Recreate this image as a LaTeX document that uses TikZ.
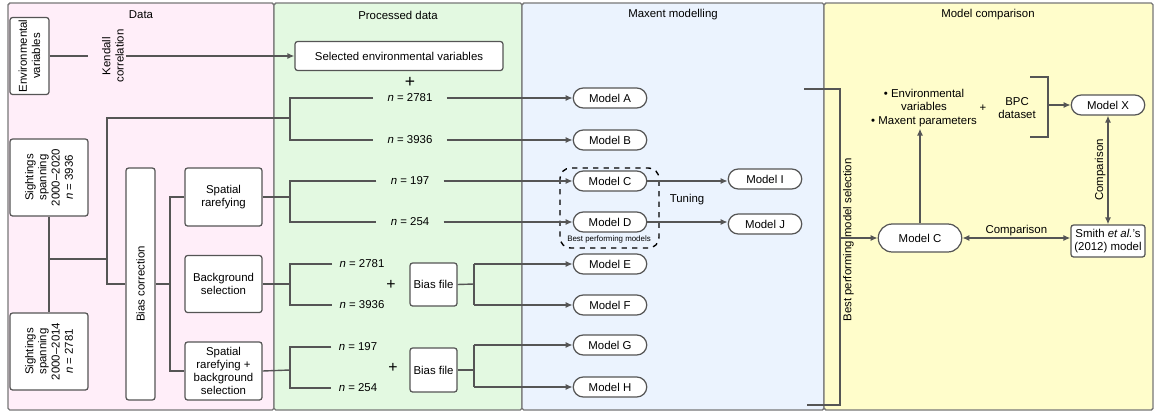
\documentclass[tikz,border=0pt]{standalone}
\usepackage{fontspec}
\setmainfont{Liberation Sans}
\usetikzlibrary{shapes.misc,arrows.meta}
\definecolor{panelpink}{HTML}{FFEEF9}
\definecolor{panelgreen}{HTML}{E3F9E1}
\definecolor{panelblue}{HTML}{EBF3FE}
\definecolor{panelyellow}{HTML}{FFFDCB}
\definecolor{edge}{HTML}{555555}
\tikzset{
  panel/.style={draw=edge!80, line width=0.8pt, rounded corners=1pt},
  title/.style={font=\fontsize{6.5}{7.5}\selectfont},
  box/.style={draw=edge, line width=0.7pt, fill=white, rounded corners=1.5pt, align=center, font=\fontsize{6.5}{7.5}\selectfont, inner sep=1pt},
  model/.style={draw=edge, line width=0.7pt, fill=white, rounded rectangle, minimum width=1.54cm, minimum height=0.4cm, font=\fontsize{6.5}{7.5}\selectfont, inner sep=1pt},
  lab/.style={font=\fontsize{6.5}{7.5}\selectfont, inner sep=1pt, align=center},
  link/.style={draw=edge, line width=0.8pt},
  arr/.style={link, -{Latex[length=4pt,width=3.5pt]}},
  darr/.style={link, {Latex[length=4pt,width=3.5pt]}-{Latex[length=4pt,width=3.5pt]}}
}
\begin{document}
\begin{tikzpicture}[x=0.02cm, y=-0.02cm]
\useasboundingbox (0,0) rectangle (1157,413);

% panels
\draw[panel, fill=panelpink] (8,3) rectangle (274,410);
\draw[panel, fill=panelgreen] (274,3) rectangle (522,410);
\draw[panel, fill=panelblue] (522,3) rectangle (824,410);
\draw[panel, fill=panelyellow] (824,3) rectangle (1153,410);
\node[title] at (141,15) {Data};
\node[title] at (398,15) {Processed data};
\node[title] at (673,15) {Maxent modelling};
\node[title] at (988,15) {Model comparison};

% data
\node[box, minimum width=1.54cm, minimum height=0.78cm, rotate=90] (env) at (29.5,56) {Environmental\\variables};
\node[lab, rotate=90] (kendall) at (113,56) {Kendall\\correlation};
\node[box, minimum width=4.16cm, minimum height=0.58cm] (selected) at (399,56) {Selected environmental variables};
\node[lab, font=\fontsize{10}{10}\selectfont] (plus0) at (410,82) {+};
\draw[link] (env.south) -- (88,56);
\draw[arr] (kendall.south) -- (selected.west);

\node[box, minimum width=1.54cm, minimum height=1.56cm, rotate=90] (s2020) at (49,177.5) {Sightings\\spanning\\2000--2020\\\textit{n} = 3936};
\node[box, minimum width=1.54cm, minimum height=1.56cm, rotate=90] (s2014) at (49,351.5) {Sightings\\spanning\\2000--2014\\\textit{n} = 2781};
\node[box, minimum width=4.64cm, minimum height=0.58cm, rotate=90] (bias) at (140.5,284) {Bias correction};
\node[box, minimum width=1.54cm, minimum height=1.16cm] (spatial) at (223.5,197) {Spatial\\rarefying};
\node[box, minimum width=1.54cm, minimum height=1.14cm] (backgr) at (223.5,284) {Background\\selection};
\node[box, minimum width=1.54cm, minimum height=1.16cm] (both) at (223.5,371) {Spatial\\rarefying +\\background\\selection};

\coordinate (sjoin) at (49,259);
\draw[link] (s2020.west) -- (s2014.east);
\draw[link] (sjoin) -- (107,259);
\draw[link] (290,118) -- (107,118) -- (107,284) -- (bias.north);
\draw[link] (bias.south) -- (170,284);
\draw[link] (spatial.west) -- (170,197) -- (170,371) -- (both.west);

% processed data
\node[lab, inner xsep=8pt] (nA) at (410,98) {\textit{n} = 2781};
\node[lab, inner xsep=8pt] (nB) at (410,140) {\textit{n} = 3936};
\node[lab, inner xsep=8pt] (nC) at (410,181) {\textit{n} = 197};
\node[lab, inner xsep=8pt] (nD) at (410,222) {\textit{n} = 254};
\node[lab, inner xsep=4pt] (nE) at (362,264) {\textit{n} = 2781};
\node[lab, inner xsep=4pt] (nF) at (362,305) {\textit{n} = 3936};
\node[lab, inner xsep=4pt] (nG) at (358,347) {\textit{n} = 197};
\node[lab, inner xsep=4pt] (nH) at (358,388) {\textit{n} = 254};
\node[lab, font=\fontsize{9}{9}\selectfont] (plus1) at (391,285) {+};
\node[lab, font=\fontsize{9}{9}\selectfont] (plus2) at (393,368) {+};
\node[box, minimum width=0.94cm, minimum height=0.86cm] (biasE) at (433.5,284.5) {Bias file};
\node[box, minimum width=0.94cm, minimum height=0.88cm] (biasG) at (433.5,370) {Bias file};

\draw[link] (nA.west) -- (290,98) -- (290,140) -- (nB.west);
\draw[link] (spatial.east) -- (290,197);
\draw[link] (nC.west) -- (290,181) -- (290,222) -- (nD.west);
\draw[link] (backgr.east) -- (290,284);
\draw[link] (nE.west) -- (290,264) -- (290,305) -- (nF.west);
\draw[link] (both.east) -- (290,370);
\draw[link] (nG.west) -- (290,347) -- (290,388) -- (nH.west);
\draw[link] (biasE.east) -- (474,284);
\draw[link] (biasG.east) -- (474,370);

% maxent modelling
\node[model] (mA) at (610,98) {Model A};
\node[model] (mB) at (610,140) {Model B};
\node[model] (mC) at (610,181) {Model C};
\node[model] (mD) at (610,222) {Model D};
\node[model] (mE) at (610,264) {Model E};
\node[model] (mF) at (610,305) {Model F};
\node[model] (mG) at (610,345) {Model G};
\node[model] (mH) at (610,387) {Model H};
\node[model] (mI) at (765,179) {Model I};
\node[model] (mJ) at (765,224) {Model J};
\node[lab] (tuning) at (687,200) {Tuning};
\draw[black, line width=0.8pt, dashed, rounded corners=6pt] (560,168) rectangle (659,248);
\node[lab, font=\fontsize{4.5}{5}\selectfont] (best) at (609,239) {Best performing models};

\draw[arr] (nA.east) -- (mA.west);
\draw[arr] (nB.east) -- (mB.west);
\draw[arr] (nC.east) -- (mC.west);
\draw[arr] (nD.east) -- (mD.west);
\draw[arr] (474,264) -- (mE.west);
\draw[arr] (474,305) -- (mF.west);
\draw[link] (474,264) -- (474,305);
\draw[arr] (474,345) -- (mG.west);
\draw[arr] (474,387) -- (mH.west);
\draw[link] (474,345) -- (474,387);
\draw[arr] (mC.east) -- (mC.east -| mI.west);
\draw[arr] (mD.east) -- (mD.east -| mJ.west);

% model comparison
\coordinate (selbar) at (840,238);
\draw[link] (804,89) -- (840,89) -- (840,405) -- (807,405);
\node[lab, rotate=90, anchor=north] (selection) at (841,240) {Best performing model selection};
\node[model, minimum width=1.74cm, minimum height=0.56cm] (mC2) at (920,238) {Model C};
\node[lab] (bullets) at (924,108) {\textbullet\ Environmental\\variables\\\textbullet\ Maxent parameters};
\node[lab] (plus3) at (983,108) {+};
\node[lab] (bpc) at (1017,108) {BPC\\dataset};
\node[model] (mX) at (1108,105) {Model X};
\node[box, minimum width=1.48cm, minimum height=0.64cm] (smith) at (1108,241) {Smith \textit{et al.}'s\\(2012) model};
\coordinate (setbar) at (1048,105);

\draw[arr] (selbar) -- (mC2.west);
\draw[arr] (mC2.north) -- (mC2.north |- bullets.south);
\draw[link] (1030,77) -- (1048,77) -- (1048,137) -- (1030,137);
\draw[arr] (setbar) -- (mX.west);
\draw[darr] (mC2.east) -- node[lab, above] {Comparison} (mC2.east -| smith.west);
\draw[darr] (mX.south) -- node[lab, rotate=90, above] {Comparison} (smith.north);
\end{tikzpicture}
\end{document}
